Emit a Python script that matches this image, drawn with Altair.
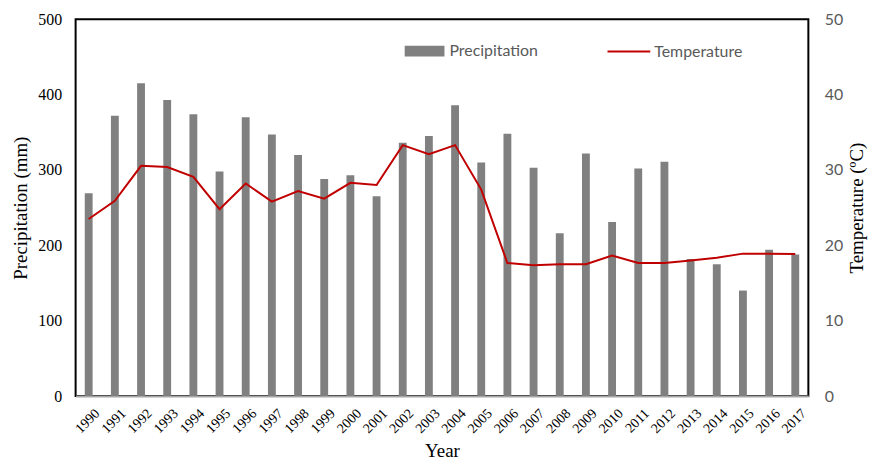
import altair as alt
import pandas as pd

years = ["1990", "1991", "1992", "1993", "1994", "1995", "1996", "1997", "1998", "1999",
         "2000", "2001", "2002", "2003", "2004", "2005", "2006", "2007", "2008", "2009",
         "2010", "2011", "2012", "2013", "2014", "2015", "2016", "2017"]
precip = [269, 372, 415, 393, 374, 298, 370, 347, 320, 288, 293, 265, 336, 345, 386, 310,
          348, 303, 216, 322, 231, 302, 311, 182, 175, 140, 194, 188]
temp = [23.5, 25.9, 30.55, 30.4, 29.1, 24.8, 28.2, 25.8, 27.2, 26.2, 28.3, 28.0, 33.3, 32.1,
        33.3, 27.4, 17.65, 17.35, 17.5, 17.5, 18.65, 17.65, 17.65, 18.0, 18.35, 18.9, 18.9, 18.85]

df = pd.DataFrame({"Year": years, "Precipitation": precip, "Temperature": temp})

serif = "Liberation Serif"
sans = "Lato"

x = alt.X("Year:N", sort=years,
          scale=alt.Scale(paddingInner=0.7, paddingOuter=0.35),
          axis=alt.Axis(title="Year", labelAngle=-45, labelFont=serif, labelFontSize=14,
                        labelColor="black", labelAlign="right", labelBaseline="top",
                        labelPadding=10, labelOffset=4, ticks=False, domainColor="#A6A6A6",
                        domainWidth=2, titleFont=serif, titleFontSize=19,
                        titleFontWeight="normal", titleColor="black", titlePadding=6))

bars = alt.Chart(df).transform_calculate(series="'Precipitation'").mark_bar(color="#808080").encode(
    x=x,
    y=alt.Y("Precipitation:Q", scale=alt.Scale(domain=[0, 500]),
            axis=alt.Axis(title="Precipitation (mm)", values=[0, 100, 200, 300, 400, 500],
                          grid=False, ticks=False, domain=False, labelFont=serif,
                          labelFontSize=16, labelColor="black", labelPadding=14,
                          titleFont=serif, titleFontSize=19, titleFontWeight="normal",
                          titleColor="black", titlePadding=7)),
    fill=alt.Fill("series:N", scale=alt.Scale(domain=["Precipitation"], range=["#808080"]),
                  legend=alt.Legend(title=None, orient="none", legendX=331, legendY=12,
                                    symbolType="M-1,-0.27H1V0.27H-1Z", symbolSize=1600,
                                    symbolStrokeWidth=0, labelFont=sans, labelFontSize=16,
                                    labelColor="#595959", labelOffset=5)),
)

line = alt.Chart(df).transform_calculate(series="'Temperature'").mark_line(color="#C00000", strokeWidth=2).encode(
    x=x,
    y=alt.Y("Temperature:Q", scale=alt.Scale(domain=[0, 50]),
            axis=alt.Axis(orient="right", title="Temperature (ºC)", values=[0, 10, 20, 30, 40, 50],
                          grid=False, ticks=False, domain=False, labelFont=sans,
                          labelFontSize=16, labelColor="#595959", labelPadding=16,
                          titleFont=serif, titleFontSize=19, titleFontWeight="normal",
                          titleColor="black", titleAngle=270, titlePadding=24)),
    stroke=alt.Stroke("series:N", scale=alt.Scale(domain=["Temperature"], range=["#C00000"]),
                      legend=alt.Legend(title=None, orient="none", legendX=534, legendY=10,
                                        symbolType="stroke", symbolSize=1849,
                                        symbolStrokeWidth=2, labelFont=sans, labelFontSize=16,
                                        labelColor="#595959", labelOffset=3)),
)

chart = alt.layer(bars, line).resolve_scale(y="independent").properties(
    width=737, height=379,
    background="white",
    autosize=alt.AutoSizeParams(type="none"),
    padding={"left": 68, "top": 10, "right": 62, "bottom": 66},
).configure_view(stroke="black", strokeWidth=2)

chart.save("out.html", embed_options={"renderer": "svg", "actions": False})
